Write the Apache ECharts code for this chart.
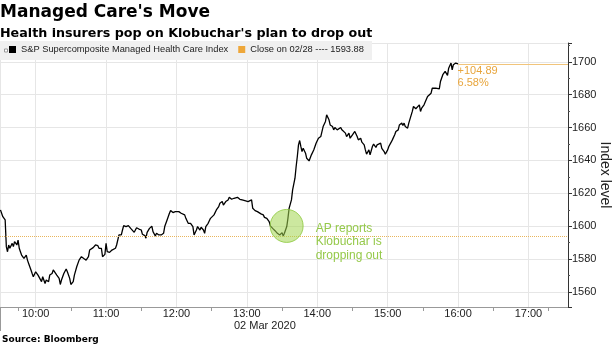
<!DOCTYPE html>
<html><head><meta charset="utf-8">
<script src="https://cdn.jsdelivr.net/npm/echarts@6/dist/echarts.min.js"></script>
<style>html,body{margin:0;padding:0;background:#fff}#c{width:615px;height:346px}</style>
</head><body><div id="c"></div>
<script>
const title = "Managed Care's Move";
const subtitle = "Health insurers pop on Klobuchar's plan to drop out";
const sourceText = "Source: Bloomberg";
const dateLabel = "02 Mar 2020";
const seriesName = "S&P Supercomposite Managed Health Care Index";
const closeName = "Close on 02/28 ---- 1593.88";
const prevClose = 1593.88;
const changeText = "+104.89";
const changePct = "6.58%";
const annotationText = "AP reports\nKlobuchar is\ndropping out";
const annotationPoint = [243.9, 1600.2]; // minutes after 09:30, index level
const xRange = [-0.4, 483.7];            // minutes after 09:30
const yRange = [1550.9, 1711.4];

// minutes after 09:30 on 02 Mar 2020
const minutes = [
  0,2,3,4,5,6,7,8,10,11,
  12,14,15,16,17,18,19,20,22,23,
  24,26,27,28,30,32,33,35,36,38,
  39,41,42,44,45,46,48,50,51,52,
  54,56,57,59,60,62,63,65,67,69,
  71,73,75,76,79,81,83,84,86,87,
  89,90,91,93,95,96,98,99,101,103,
  104,105,107,109,111,112,114,116,118,120,
  121,123,124,125,127,129,130,132,133,135,
  136,137,139,140,142,144,145,147,149,150,
  152,154,155,157,158,160,161,162,164,165,
  167,168,170,171,173,174,175,177,179,182,
  184,186,187,189,190,192,194,195,197,199,
  200,202,204,206,207,209,211,212,214,215,
  217,219,220,222,224,225,227,229,230,232,
  233,234,235,236,237,238,240,241,242,244,
  245,246,248,249,251,252,253,254,255,256,
  257,258,260,261,263,264,265,267,269,271,
  273,274,275,277,278,280,281,283,284,285,
  287,288,290,291,292,294,295,297,298,300,
  301,302,304,305,307,308,310,311,312,314,
  315,317,318,320,321,322,324,325,327,328,
  330,331,333,334,336,337,339,340,342,343,
  344,345,347,348,349,351,352,354,355,357,
  358,359,361,362,364,365,367,368,369,371,
  372,374,375,377,378,379,381,382,384,385,
  386,387,388,389,390
];
const values = [
  1609.9,1605.8,1605.8,1603.8,1587.6,1584.5,1588.6,1586.6,1589.6,1587.6,
  1590.6,1588.6,1591.6,1586.6,1584.5,1582.5,1583.5,1580.4,1582.5,1579.4,
  1577.4,1573.4,1571.3,1569.3,1572.3,1570.3,1571.3,1566.3,1569.3,1565.2,
  1567.3,1566.3,1570.3,1571.3,1573.4,1572.3,1570.3,1568.3,1564.6,1567.3,
  1571.3,1574.0,1572.3,1568.3,1564.6,1566.3,1570.3,1575.4,1579.4,1581.5,
  1580.4,1579.4,1581.5,1585.5,1587.0,1588.6,1588.2,1586.6,1586.6,1581.5,
  1582.9,1589.6,1584.5,1584.1,1585.5,1585.5,1586.6,1588.6,1594.7,1594.7,
  1597.7,1600.4,1599.8,1600.4,1598.7,1599.1,1596.3,1599.1,1598.3,1597.7,
  1595.1,1594.3,1592.7,1596.3,1598.7,1600.0,1596.7,1594.1,1595.7,1594.7,
  1595.7,1594.7,1595.7,1599.8,1603.8,1607.9,1609.5,1608.3,1608.9,1607.9,
  1608.9,1607.9,1608.9,1606.9,1604.8,1601.8,1602.8,1601.8,1599.8,1594.7,
  1597.7,1599.8,1597.7,1599.4,1597.7,1595.7,1599.8,1601.8,1604.8,1606.9,
  1609.9,1611.9,1614.0,1615.0,1612.9,1615.0,1616.0,1617.6,1616.4,1617.0,
  1616.6,1617.6,1616.4,1616.0,1615.0,1615.4,1615.0,1615.6,1616.0,1610.9,
  1609.5,1608.9,1607.9,1607.5,1606.9,1605.4,1604.8,1602.8,1600.2,1598.7,
  1599.3,1597.3,1598.1,1595.7,1596.7,1594.7,1596.1,1594.1,1595.7,1599.8,
  1604.8,1610.9,1616.0,1622.1,1629.2,1636.3,1642.4,1649.5,1652.1,1648.5,
  1645.4,1647.4,1644.4,1641.3,1639.7,1640.9,1643.4,1646.4,1650.5,1653.5,
  1654.5,1655.6,1660.6,1663.7,1667.7,1664.7,1661.6,1660.6,1658.6,1660.0,
  1658.6,1659.6,1660.0,1658.6,1659.6,1656.6,1654.5,1656.6,1653.5,1655.6,
  1656.6,1657.6,1654.5,1652.5,1653.5,1651.1,1649.5,1646.4,1643.8,1646.4,
  1643.4,1648.5,1649.9,1647.9,1649.5,1648.5,1650.5,1647.4,1645.4,1643.8,
  1646.4,1648.5,1651.1,1652.5,1655.6,1657.6,1658.6,1661.6,1662.7,1661.2,
  1662.7,1660.6,1659.6,1662.7,1663.7,1669.8,1672.8,1671.4,1670.8,1673.8,
  1669.8,1671.8,1673.8,1674.2,1678.9,1679.9,1680.9,1683.9,1685.0,1683.9,
  1683.9,1683.5,1688.0,1692.1,1693.1,1694.1,1691.7,1696.1,1699.2,1695.1,
  1698.2,1697.1,1699.2,1698.6,1698.77
];

const base = new Date(2020, 2, 2, 9, 30, 0).getTime();
const toT = m => base + m * 60000;
const pad = n => (n < 10 ? '0' : '') + n;
const data = minutes.map((m, i) => [toT(m), values[i]]);
const last = data[data.length - 1];
const orange = '#eea73a';
const font = 'Liberation Sans';

const chart = echarts.init(document.getElementById('c'), null, {renderer: 'canvas'});
chart.setOption({
  animation: false,
  textStyle: {fontFamily: font},
  title: {
    text: title, subtext: subtitle, left: 0, top: 4, padding: 0, itemGap: 6,
    textStyle: {fontFamily: 'DejaVu Sans', fontWeight: 'bold', fontSize: 17, color: '#000'},
    subtextStyle: {fontFamily: 'DejaVu Sans', fontWeight: 'bold', fontSize: 12.7, color: '#000'}
  },
  legend: {
    left: 9, top: 45, padding: 0, z: 10, itemWidth: 7, itemHeight: 7, itemGap: 10,
    selectedMode: false,
    textStyle: {fontFamily: font, fontSize: 9.3, color: '#222'},
    data: [{name: seriesName, icon: 'rect'}, {name: closeName, icon: 'rect'}]
  },
  grid: {left: 0, right: 47, top: 43, bottom: 39, containLabel: false, outerBoundsMode: 'none'},
  xAxis: {
    type: 'time', min: toT(xRange[0]), max: toT(xRange[1]),
    minInterval: 3600000, maxInterval: 3600000, splitNumber: 8,
    axisLine: {lineStyle: {color: '#999', width: 1}},
    axisTick: {show: false},
    minorTick: {show: true, splitNumber: 2, length: 4, lineStyle: {color: '#999'}},
    axisLabel: {
      formatter: v => { const d = new Date(v); return pad(d.getHours()) + ':' + pad(d.getMinutes()); },
      showMinLabel: false, showMaxLabel: false, color: '#222', fontSize: 11, margin: 1, fontFamily: font
    },
    splitLine: {show: true, lineStyle: {color: '#e6e6e6', width: 1}}
  },
  yAxis: {
    type: 'value', position: 'right', min: yRange[0], max: yRange[1], splitNumber: 8, scale: true,
    axisLine: {show: true, lineStyle: {color: '#333', width: 1}},
    axisTick: {show: true, length: 4, lineStyle: {color: '#333'}},
    minorTick: {show: true, splitNumber: 2, length: 2, lineStyle: {color: '#555'}},
    axisLabel: {color: '#222', fontSize: 11, margin: 4, showMinLabel: false, showMaxLabel: false,
                fontFamily: font, formatter: v => String(Math.round(v))},
    splitLine: {show: true, lineStyle: {color: '#e6e6e6', width: 1}},
    name: 'Index level', nameLocation: 'middle', nameRotate: -90, nameGap: 30, nameMoveOverlap: false,
    nameTextStyle: {fontSize: 14, color: '#222', fontFamily: font}
  },
  series: [
    {
      name: seriesName, type: 'line', data: data, showSymbol: false, symbol: 'none',
      itemStyle: {color: '#000'}, lineStyle: {color: '#000', width: 1.3}, z: 3,
      markLine: {
        silent: true, symbol: ['none', 'none'], label: {show: false}, animation: false,
        data: [
          {yAxis: prevClose, lineStyle: {color: '#e9b55c', type: 'dotted', width: 1}},
          [{coord: [last[0], last[1]], lineStyle: {color: '#f1c47a', type: 'solid', width: 1}},
           {coord: [toT(xRange[1]), last[1]]}]
        ]
      },
      markPoint: {
        silent: true, animation: false,
        data: [
          {coord: [toT(annotationPoint[0]), annotationPoint[1]], symbol: 'circle', symbolSize: 33,
           itemStyle: {color: 'rgba(163,214,80,0.55)', borderColor: 'rgba(140,200,60,0.8)', borderWidth: 1},
           label: {show: true, position: [46, 13], formatter: annotationText, color: '#95c94a',
                   fontSize: 12, lineHeight: 13.5, align: 'left', verticalAlign: 'top', fontFamily: font}},
          {coord: [last[0], last[1]], symbol: 'rect', symbolSize: 1, itemStyle: {color: 'rgba(0,0,0,0)'},
           label: {show: true, position: [0, 1], formatter: changeText + '\n' + changePct, color: '#e8a53c',
                   fontSize: 11, lineHeight: 12.5, align: 'left', verticalAlign: 'top', fontFamily: font}}
        ]
      }
    },
    {name: closeName, type: 'line', data: [], itemStyle: {color: orange}, lineStyle: {color: orange}}
  ],
  graphic: [
    {type: 'rect', left: 0, top: 41, z: 3, shape: {width: 372, height: 19}, style: {fill: '#f0f0f0'}},
    {type: 'rect', left: 4, top: 48.5, z: 11, shape: {width: 3, height: 3}, style: {fill: '#fff', stroke: '#999', lineWidth: 1}},
    {type: 'line', z: 3, shape: {x1: 0.5, y1: 307, x2: 0.5, y2: 331}, style: {stroke: '#999', lineWidth: 1}},
    {type: 'text', left: 234, top: 320, style: {text: dateLabel, font: '11px "Liberation Sans"', fill: '#222'}},
    {type: 'text', left: 2, top: 335, style: {text: sourceText, font: 'bold 9px "DejaVu Sans"', fill: '#000'}}
  ]
});
</script></body></html>
